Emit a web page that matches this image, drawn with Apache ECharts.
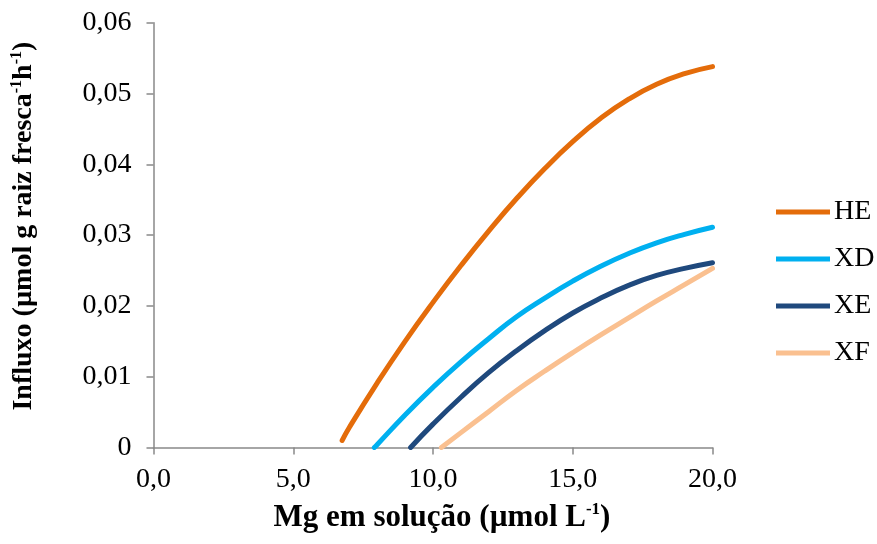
<!DOCTYPE html>
<html>
<head>
<meta charset="utf-8">
<script src="https://cdn.jsdelivr.net/npm/echarts@6/dist/echarts.min.js"></script>
<style>html,body{margin:0;padding:0;background:#fff}#c{width:877px;height:544px}</style>
</head>
<body>
<div id="c"></div>
<script>
var seriesNames = ['HE', 'XD', 'XE', 'XF'];
var heX = [6.75, 7, 8, 9, 10, 11, 12, 13, 14, 15, 16, 17, 18, 19, 20];
var heY = [0.001, 0.0028, 0.0091, 0.0150, 0.0205, 0.0257, 0.0306, 0.0352, 0.0394, 0.0432, 0.0465, 0.0492, 0.0513, 0.0528, 0.0538];
var xdX = [7.9, 8, 9, 10, 11, 12, 13, 14, 15, 16, 17, 18, 19, 20];
var xdY = [0, 0.0004, 0.0046, 0.0085, 0.0121, 0.0154, 0.0185, 0.0211, 0.0235, 0.0256, 0.0274, 0.0289, 0.0301, 0.0311];
var xeX = [9.2, 10, 11, 12, 13, 14, 15, 16, 17, 18, 19, 20];
var xeY = [0, 0.0033, 0.0071, 0.0106, 0.0137, 0.0165, 0.0190, 0.0211, 0.0229, 0.0243, 0.0253, 0.0261];
var xfX = [10.3, 11, 12, 13, 14, 15, 16, 17, 18, 19, 20];
var xfY = [0, 0.0021, 0.0051, 0.0081, 0.0108, 0.0134, 0.0159, 0.0183, 0.0207, 0.0230, 0.0253];
var xTickLabels = ['0,0', '5,0', '10,0', '15,0', '20,0'];
var yTickLabels = ['0', '0,01', '0,02', '0,03', '0,04', '0,05', '0,06'];
var colors = ['#E46C0A', '#00B0F0', '#1F497D', '#FAC090'];

function pairs(xs, ys) { return xs.map(function (x, i) { return [x, ys[i]]; }); }
var allData = [pairs(heX, heY), pairs(xdX, xdY), pairs(xeX, xeY), pairs(xfX, xfY)];

var font = 'Liberation Serif, Times New Roman, serif';
var chart = echarts.init(document.getElementById('c'), null, {renderer: 'canvas'});
var axisLineStyle = {color: '#898989', width: 1.5};
chart.setOption({
  animation: false,
  color: colors,
  grid: {left: 153.5, right: 164.5, top: 22.7, bottom: 96.5, containLabel: false, outerBoundsMode: 'none'},
  xAxis: {
    type: 'value', min: 0, max: 20, interval: 5,
    axisLine: {show: true, lineStyle: axisLineStyle},
    axisTick: {show: true, length: 7, inside: false, lineStyle: axisLineStyle},
    splitLine: {show: false},
    axisLabel: {
      margin: 18, color: '#000', fontFamily: font, fontSize: 28,
      formatter: function (v, i) { return xTickLabels[Math.round(v / 5)]; }
    },
    name: '{a|Mg em solução (µmol L}{s|-1}{a|)}',
    nameLocation: 'middle', nameGap: 54,
    nameTextStyle: {
      padding: [0, 0, 0, 18],
      rich: {
        a: {fontFamily: font, fontSize: 31, fontWeight: 'bold', color: '#000', lineHeight: 32},
        s: {fontFamily: font, fontSize: 17, fontWeight: 'bold', color: '#000', verticalAlign: 'top', lineHeight: 32}
      }
    }
  },
  yAxis: {
    type: 'value', min: 0, max: 0.06, interval: 0.01,
    axisLine: {show: true, lineStyle: axisLineStyle},
    axisTick: {show: true, length: 7, inside: false, lineStyle: axisLineStyle},
    splitLine: {show: false},
    axisLabel: {
      margin: 22, color: '#000', fontFamily: font, fontSize: 28,
      formatter: function (v) { return yTickLabels[Math.round(v * 100)]; }
    },
    name: '{a|Influxo (µmol g raiz fresca}{s|-1}{a|h}{s|-1}{a|)}',
    nameLocation: 'middle', nameGap: 115, nameRotate: 90,
    nameTextStyle: {
      padding: [0, 0, 0, 18],
      rich: {
        a: {fontFamily: font, fontSize: 28, fontWeight: 'bold', color: '#000', lineHeight: 30},
        s: {fontFamily: font, fontSize: 16, fontWeight: 'bold', color: '#000', verticalAlign: 'top', lineHeight: 30}
      }
    }
  },
  legend: {
    orient: 'vertical', left: 776, top: 198, padding: 0,
    itemWidth: 54, itemHeight: 14, itemGap: 19,
    icon: 'path://M0,0 L54,0 L54,5 L0,5 Z',
    data: seriesNames,
    textStyle: {fontFamily: font, fontSize: 28, color: '#000', padding: [0, 0, 0, -1]}
  },
  series: seriesNames.map(function (n, i) {
    return {
      name: n, type: 'line', data: allData[i],
      smooth: 0.5,
      symbol: 'none', showSymbol: false,
      lineStyle: {width: 5, color: colors[i], cap: 'round'},
      itemStyle: {color: colors[i]},
      clip: true
    };
  })
});
</script>
</body>
</html>
